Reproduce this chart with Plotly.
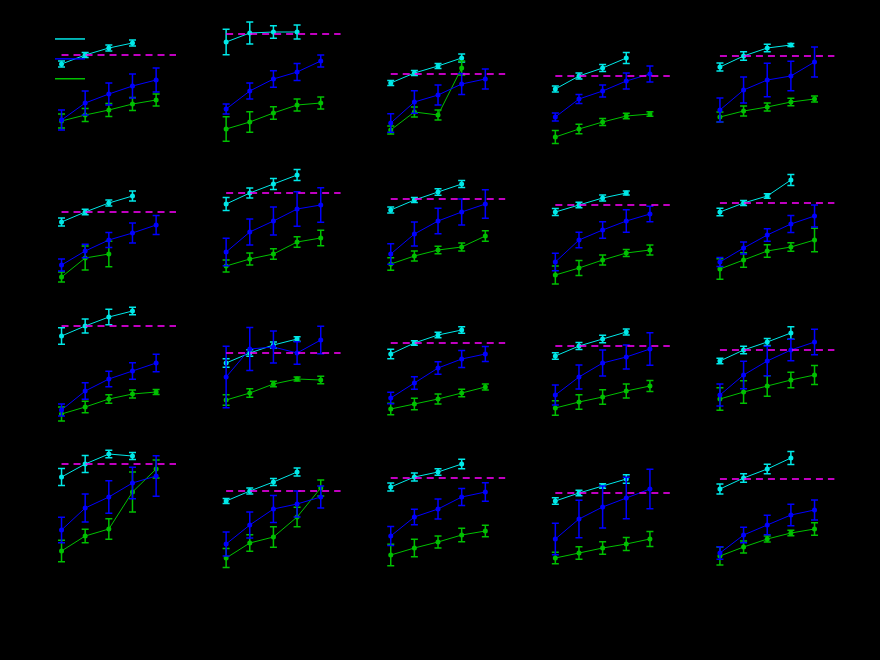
import plotly.graph_objects as go

N_ROWS, N_COLS = 4, 5
X_POINTS = [1, 2, 3, 4, 5]
REF_X = [1, 5.84]

CYAN_MEAN = [
    [0.91, 1.00, 1.07, 1.12], [1.13, 1.22, 1.23, 1.23], [0.72, 0.82, 0.89, 0.97], [0.66, 0.79, 0.87, 0.97], [0.88, 0.99, 1.07, 1.10],
    [0.73, 0.83, 0.92, 0.99], [0.91, 1.02, 1.11, 1.20], [0.85, 0.95, 1.03, 1.11], [0.83, 0.90, 0.97, 1.02], [0.83, 0.92, 0.99, 1.15],
    [0.99, 1.09, 1.18, 1.24], [0.72, 0.82, 0.90, 0.96], [0.81, 0.92, 1.00, 1.05], [0.79, 0.89, 0.96, 1.03], [0.74, 0.85, 0.93, 1.02],
    [0.98, 1.11, 1.21, 1.19], [0.74, 0.84, 0.93, 1.03], [0.88, 0.98, 1.03, 1.11], [0.74, 0.82, 0.89, 0.96], [0.86, 0.97, 1.06, 1.17],
]
CYAN_ERR = [
    [0.03, 0.025, 0.03, 0.03], [0.127, 0.11, 0.063, 0.07], [0.025, 0.025, 0.025, 0.04], [0.03, 0.03, 0.035, 0.055], [0.04, 0.043, 0.037, 0.015],
    [0.04, 0.027, 0.03, 0.05], [0.065, 0.05, 0.055, 0.055], [0.03, 0.025, 0.033, 0.035], [0.035, 0.027, 0.03, 0.02], [0.037, 0.025, 0.023, 0.055],
    [0.083, 0.07, 0.077, 0.037], [0.043, 0.032, 0.03, 0.023], [0.048, 0.023, 0.028, 0.033], [0.033, 0.035, 0.038, 0.03], [0.028, 0.037, 0.035, 0.062],
    [0.085, 0.085, 0.037, 0.035], [0.025, 0.03, 0.035, 0.04], [0.04, 0.04, 0.032, 0.047], [0.033, 0.027, 0.023, 0.043], [0.05, 0.043, 0.048, 0.065],
]
BLUE_MEAN = [
    [0.35, 0.52, 0.61, 0.69, 0.75], [0.46, 0.64, 0.76, 0.83, 0.94], [0.32, 0.53, 0.60, 0.71, 0.76], [0.38, 0.56, 0.64, 0.74, 0.81], [0.45, 0.65, 0.75, 0.79, 0.93],
    [0.30, 0.44, 0.55, 0.62, 0.70], [0.43, 0.63, 0.74, 0.86, 0.90], [0.41, 0.61, 0.74, 0.83, 0.91], [0.33, 0.55, 0.65, 0.74, 0.81], [0.33, 0.47, 0.60, 0.71, 0.79],
    [0.25, 0.44, 0.56, 0.64, 0.72], [0.58, 0.86, 0.88, 0.82, 0.95], [0.37, 0.52, 0.67, 0.76, 0.81], [0.40, 0.58, 0.72, 0.78, 0.86], [0.40, 0.60, 0.74, 0.85, 0.93],
    [0.45, 0.67, 0.78, 0.92, 0.99], [0.31, 0.50, 0.66, 0.71, 0.78], [0.39, 0.58, 0.66, 0.78, 0.83], [0.36, 0.56, 0.68, 0.77, 0.86], [0.22, 0.40, 0.50, 0.60, 0.65],
]
BLUE_ERR = [
    [0.10, 0.12, 0.11, 0.12, 0.12], [0.05, 0.08, 0.083, 0.085, 0.06], [0.093, 0.113, 0.10, 0.105, 0.10], [0.04, 0.045, 0.06, 0.08, 0.08], [0.12, 0.13, 0.167, 0.147, 0.15],
    [0.06, 0.067, 0.075, 0.10, 0.095], [0.137, 0.13, 0.14, 0.173, 0.173], [0.103, 0.12, 0.127, 0.13, 0.143], [0.087, 0.078, 0.083, 0.113, 0.077], [0.045, 0.06, 0.063, 0.085, 0.11],
    [0.06, 0.082, 0.078, 0.083, 0.088], [0.308, 0.215, 0.16, 0.113, 0.138], [0.058, 0.062, 0.063, 0.085, 0.075], [0.10, 0.12, 0.13, 0.12, 0.163], [0.11, 0.137, 0.148, 0.107, 0.128],
    [0.127, 0.14, 0.162, 0.158, 0.203], [0.12, 0.13, 0.135, 0.13, 0.11], [0.095, 0.078, 0.10, 0.085, 0.092], [0.158, 0.188, 0.21, 0.207, 0.197], [0.062, 0.077, 0.097, 0.107, 0.10],
]
GREEN_MEAN = [
    [0.34, 0.40, 0.45, 0.51, 0.55], [0.26, 0.33, 0.42, 0.50, 0.52], [0.25, 0.43, 0.40, 0.87], [0.18, 0.26, 0.33, 0.39, 0.41], [0.38, 0.44, 0.48, 0.53, 0.56],
    [0.18, 0.37, 0.41], [0.29, 0.36, 0.41, 0.53, 0.57], [0.31, 0.39, 0.45, 0.48, 0.59], [0.20, 0.27, 0.35, 0.42, 0.45], [0.26, 0.35, 0.44, 0.48, 0.55],
    [0.21, 0.28, 0.36, 0.41, 0.43], [0.35, 0.42, 0.51, 0.56, 0.55], [0.26, 0.31, 0.36, 0.42, 0.48], [0.27, 0.33, 0.38, 0.44, 0.49], [0.36, 0.43, 0.49, 0.55, 0.60],
    [0.24, 0.39, 0.46, 0.83, 1.06], [0.17, 0.32, 0.38, 0.58, 0.87], [0.20, 0.27, 0.33, 0.40, 0.44], [0.17, 0.22, 0.27, 0.31, 0.36], [0.19, 0.28, 0.36, 0.42, 0.46],
]
GREEN_ERR = [
    [0.07, 0.065, 0.065, 0.065, 0.06], [0.123, 0.103, 0.062, 0.06, 0.06], [0.04, 0.05, 0.05, 0.07], [0.065, 0.047, 0.035, 0.027, 0.023], [0.05, 0.05, 0.04, 0.038, 0.03],
    [0.05, 0.12, 0.128], [0.06, 0.06, 0.053, 0.053, 0.077], [0.063, 0.05, 0.038, 0.04, 0.053], [0.09, 0.075, 0.05, 0.035, 0.05], [0.103, 0.072, 0.062, 0.043, 0.118],
    [0.07, 0.057, 0.043, 0.04, 0.025], [0.053, 0.043, 0.028, 0.02, 0.037], [0.058, 0.058, 0.05, 0.037, 0.03], [0.073, 0.072, 0.073, 0.07, 0.055], [0.112, 0.113, 0.103, 0.077, 0.095],
    [0.108, 0.067, 0.103, 0.20, 0.09], [0.095, 0.083, 0.102, 0.097, 0.08], [0.108, 0.087, 0.06, 0.067, 0.058], [0.057, 0.063, 0.062, 0.065, 0.075], [0.09, 0.06, 0.03, 0.028, 0.062],
]
REF_LEVEL = [
    1.00, 1.21, 0.81, 0.79, 0.99,
    0.83, 1.02, 0.96, 0.90, 0.92,
    1.09, 0.82, 0.92, 0.89, 0.85,
    1.11, 0.84, 0.97, 0.82, 0.96,
]

CYAN = "#00e8e8"
BLUE = "#0000ff"
GREEN = "#00c000"
MAGENTA = "#ff00ff"

W, H = 880, 660
COL_LEFT0, COL_STEP, COL_W = 49.7, 164.6, 141.9
ROW_TOP0, ROW_STEP, ROW_H = 15, 140, 140

fig = go.Figure()
layout_axes = {}

for i in range(N_ROWS * N_COLS):
    r, c = divmod(i, N_COLS)
    k = i + 1
    xa = "x" if k == 1 else f"x{k}"
    ya = "y" if k == 1 else f"y{k}"
    series = [
        (CYAN_MEAN[i], CYAN_ERR[i], CYAN),
        (GREEN_MEAN[i], GREEN_ERR[i], GREEN),
        (BLUE_MEAN[i], BLUE_ERR[i], BLUE),
    ]
    for mean, err, color in series:
        fig.add_trace(go.Scatter(
            x=X_POINTS[:len(mean)], y=mean,
            error_y=dict(type="data", array=err, color=color, thickness=1.5, width=3.5),
            mode="lines+markers",
            line=dict(color=color, width=1),
            marker=dict(color=color, size=5),
            xaxis=xa, yaxis=ya, showlegend=False, cliponaxis=False,
            hoverinfo="skip",
        ))
    fig.add_trace(go.Scatter(
        x=REF_X, y=[REF_LEVEL[i]] * 2, mode="lines",
        line=dict(color=MAGENTA, width=1.5, dash="7px,5px"),
        xaxis=xa, yaxis=ya, showlegend=False, hoverinfo="skip",
    ))
    x0 = (COL_LEFT0 + COL_STEP * c) / W
    x1 = (COL_LEFT0 + COL_STEP * c + COL_W) / W
    y1 = 1 - (ROW_TOP0 + ROW_STEP * r) / H
    y0 = 1 - (ROW_TOP0 + ROW_STEP * r + ROW_H) / H
    sx = "" if k == 1 else str(k)
    layout_axes[f"xaxis{sx}"] = dict(domain=[x0, x1], range=[0.5, 6.5], visible=False,
                                     anchor=ya, fixedrange=True)
    layout_axes[f"yaxis{sx}"] = dict(domain=[y0, y1], range=[0, 1.4], visible=False,
                                     anchor=xa, fixedrange=True)

# legend entries (line only, no labels)
for color in [CYAN, BLUE, GREEN]:
    fig.add_trace(go.Scatter(x=[None], y=[None], mode="lines", name=" ",
                             line=dict(color=color, width=1.5), showlegend=True))

fig.update_layout(
    width=W, height=H,
    margin=dict(l=0, r=0, t=0, b=0),
    paper_bgcolor="black", plot_bgcolor="black",
    showlegend=True,
    legend=dict(x=50 / W, y=1 - 24 / H, xanchor="left", yanchor="top",
                bgcolor="rgba(0,0,0,0)", font=dict(size=13, color="black"),
                tracegroupgap=0, itemwidth=30),
    **layout_axes,
)

fig.write_html("out.html")
